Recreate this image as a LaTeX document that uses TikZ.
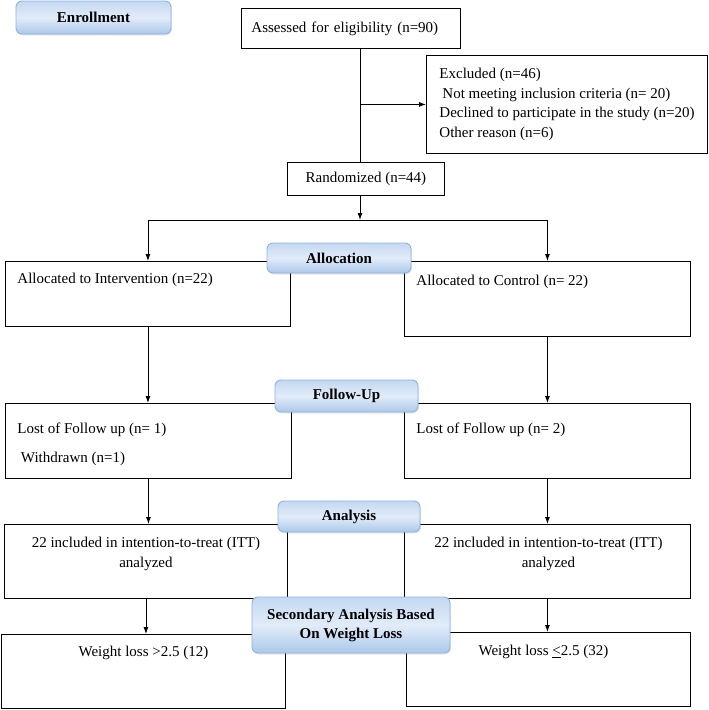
\documentclass[tikz,border=0pt]{standalone}
\usepackage{fontspec}
\setmainfont{Liberation Serif}
\usepackage{tikz}
\usetikzlibrary{positioning}
\usetikzlibrary{calc}
\usetikzlibrary{shadows}
\usetikzlibrary{arrows.meta}
\definecolor{stagetop}{RGB}{196,216,241}
\definecolor{stagemid}{RGB}{226,236,249}
\definecolor{stagebot}{RGB}{172,200,234}
\definecolor{stageline}{RGB}{141,179,226}
\tikzset{every picture/.style={line width=0.9pt,x=1pt,y=-1pt,>={Latex[length=7pt,width=5pt]}},
every node/.style={font=\fontsize{15}{19.5}\selectfont},
box/.style={draw,anchor=north west,inner sep=0pt},
stage/.style={draw=stageline,rounded corners=6pt,top color=stagetop,bottom color=stagebot,middle color=stagemid,font=\fontsize{15}{19}\selectfont\bfseries,inner sep=0pt,align=center,drop shadow={opacity=0.2,shadow xshift=1pt,shadow yshift=-1.5pt}},
txt/.style={inner sep=0pt,anchor=west,align=left}}

\begin{document}
\begin{tikzpicture}
\useasboundingbox (0,0) rectangle (709,710);

\node (ass) [box,text width=199pt,inner xsep=10pt,minimum height=40pt] at (241,8) {Assessed for eligibility (n=90)};
\node (ex) [box,align=left,minimum width=281pt,minimum height=98pt] at (426,55) {Excluded (n=46)\\\hspace{3pt}Not meeting inclusion criteria (n= 20)\\Declined to participate in the study (n=20)\\Other reason (n=6)};
\node (rand) [box,minimum width=157pt,minimum height=33pt] at (287,162) {Randomized (n=44)};

\node (allocL) [box,minimum width=285pt,minimum height=65pt] at (5,261) {};
\node (allocR) [box,minimum width=286pt,minimum height=75pt] at (404,261) {};
\node (fuL) [box,minimum width=286pt,minimum height=75pt] at (5,403) {};
\node (fuR) [box,minimum width=286pt,minimum height=75pt] at (404,403) {};
\node (anL) [box,minimum width=283pt,minimum height=74pt] at (4,524) {};
\node (anR) [box,minimum width=286pt,minimum height=74pt] at (404,524) {};
\node (wlL) [box,minimum width=284pt,minimum height=74pt] at (1,634) {};
\node (wlR) [box,minimum width=284pt,minimum height=74pt] at (406,632) {};

\node (allocLtxt) [txt] at ($(allocL.north west)+(12,19)$) {Allocated to Intervention (n=22)};
\node (allocRtxt) [txt] at ($(allocR.north west)+(12,21)$) {Allocated to Control (n= 22)};
\node (fuLtxt) [txt] at ($(fuL.north west)+(12,41.5)$) {Lost of Follow up (n= 1)\\[9.5pt]\hspace{3.5pt}Withdrawn (n=1)};
\node (fuRtxt) [txt] at ($(fuR.north west)+(12,27)$) {Lost of Follow up (n= 2)};
\node (anLtxt) [inner sep=0pt,align=center] at ($(anL.north)+(0,30)$) {22 included in intention-to-treat (ITT)\\analyzed};
\node (anRtxt) [inner sep=0pt,align=center] at ($(anR.north)+(1,30)$) {22 included in intention-to-treat (ITT)\\analyzed};
\node (wlLtxt) [inner sep=0pt] at ($(wlL.north)+(0,19)$) {Weight loss >2.5 (12)};
\node (wlRtxt) [inner sep=0pt] at ($(wlR.north)+(-5,20)$) {Weight loss \underline{<}2.5 (32)};

\coordinate (split) at (360,220);
\draw (ass.south -| split) -- (rand.north -| split);
\draw[->] (ex.west -| split) -- (ex.west);
\draw[->] (rand.south -| split) -- (split);
\draw (split -| allocL.north) -- (split -| allocR.north);
\draw[->] (split -| allocL.north) -- (allocL.north);
\draw[->] (split -| allocR.north) -- (allocR.north);
\draw[->] (allocL.south) -- (allocL.south |- fuL.north);
\draw[->] (allocR.south) -- (allocR.south |- fuR.north);
\draw[->] (fuL.south) -- (fuL.south |- anL.north);
\draw[->] (fuR.south) -- (fuR.south |- anR.north);
\draw[->] (anL.south) -- (anL.south |- wlL.north);
\draw[->] (anR.south) -- (anR.south |- wlR.north);

\node (enrol) [stage,minimum width=155pt,minimum height=33pt] at (93.5,17.5) {Enrollment};
\node (alloc) [stage,minimum width=144pt,minimum height=30pt] at (339,258) {Allocation};
\node (follow) [stage,minimum width=143pt,minimum height=32pt] at (346.5,396) {Follow-Up};
\node (analysis) [stage,minimum width=142pt,minimum height=31pt] at (349,516.5) {Analysis};
\node (second) [stage,minimum width=198pt,minimum height=56pt] at (351,625) {Secondary Analysis Based\\On Weight Loss};
\end{tikzpicture}
\end{document}
